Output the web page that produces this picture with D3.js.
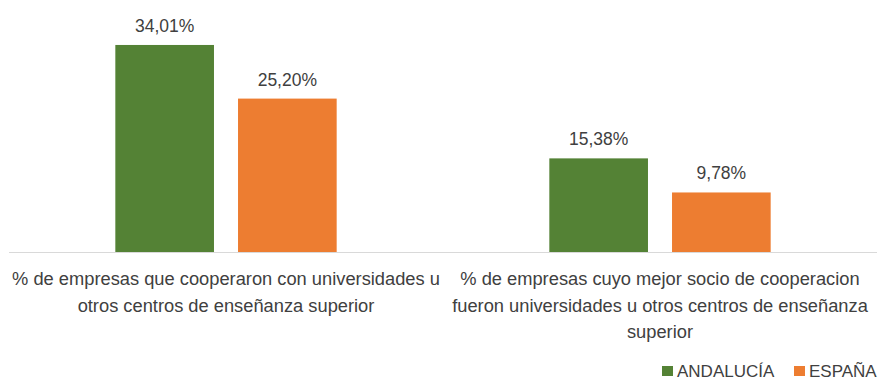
<!DOCTYPE html>
<html>
<head>
<meta charset="utf-8">
<script src="https://cdn.jsdelivr.net/npm/d3@7"></script>
<style>
  html, body { margin: 0; padding: 0; background: #ffffff; }
  svg { display: block; }
  text { font-family: "Liberation Sans", Arial, sans-serif; fill: #404040; }
</style>
</head>
<body>
<svg id="chart" width="882" height="381"></svg>
<script>
// Category labels, split into the lines they are drawn on
const categories = [
  "% de empresas que cooperaron con universidades u otros centros de enseñanza superior",
  "% de empresas cuyo mejor socio de cooperacion fueron universidades u otros centros de enseñanza superior"
];
const categoryLines = [
  ["% de empresas que cooperaron con universidades u", "otros centros de enseñanza superior"],
  ["% de empresas cuyo mejor socio de cooperacion", "fueron universidades u otros centros de enseñanza", "superior"]
];
const seriesNames = ["ANDALUCÍA", "ESPAÑA"];
const andalucia = [34.01, 15.38];
const espana = [25.20, 9.78];
const seriesColors = ["#548235", "#ED7D31"];

const seriesValues = [andalucia, espana];
const fmt = v => v.toFixed(2).replace(".", ",") + "%";

const svg = d3.select("#chart");

const x0 = d3.scaleBand()
  .domain(categories)
  .range([9, 877])
  .paddingInner(0.49)
  .paddingOuter(0.245);

const x1 = d3.scaleBand()
  .domain(seriesNames)
  .range([0, x0.bandwidth()])
  .paddingInner(0.196)
  .paddingOuter(0);

const y = d3.scaleLinear().domain([0, 40]).range([252, 8.5]);

const color = d3.scaleOrdinal().domain(seriesNames).range(seriesColors);

// Bars
const groups = svg.selectAll("g.cat")
  .data(categories)
  .join("g")
  .attr("class", "cat")
  .attr("transform", d => `translate(${x0(d)},0)`);

groups.selectAll("rect")
  .data((d, i) => seriesNames.map((s, k) => ({ s, v: seriesValues[k][i] })))
  .join("rect")
  .attr("x", d => x1(d.s))
  .attr("y", d => y(d.v))
  .attr("width", x1.bandwidth())
  .attr("height", d => y(0) - y(d.v))
  .attr("fill", d => color(d.s));

// Value labels
groups.selectAll("text.val")
  .data((d, i) => seriesNames.map((s, k) => ({ s, v: seriesValues[k][i] })))
  .join("text")
  .attr("class", "val")
  .attr("x", d => x1(d.s) + x1.bandwidth() / 2)
  .attr("y", d => y(d.v) - 13)
  .attr("text-anchor", "middle")
  .style("font-size", "17.5px")
  .text(d => fmt(d.v));

// Category axis line
svg.append("line")
  .attr("x1", x0.range()[0]).attr("x2", x0.range()[1])
  .attr("y1", y(0) + 0.5).attr("y2", y(0) + 0.5)
  .attr("stroke", "#d9d9d9")
  .attr("stroke-width", 1);

// Category labels
categories.forEach((c, i) => {
  const t = svg.append("text")
    .attr("text-anchor", "middle")
    .style("font-size", "18.3px");
  categoryLines[i].forEach((line, j) => {
    t.append("tspan")
      .attr("x", x0(c) + x0.bandwidth() / 2)
      .attr("y", 285 + j * 26.5)
      .text(line);
  });
});

// Legend
const legend = svg.append("g").attr("class", "legend");
const legendX = [662, 794];
seriesNames.forEach((s, k) => {
  legend.append("rect")
    .attr("x", legendX[k]).attr("y", 366)
    .attr("width", 11).attr("height", 10)
    .attr("fill", color(s));
  legend.append("text")
    .attr("x", legendX[k] + 15).attr("y", 377)
    .style("font-size", "17px")
    .text(s);
});
</script>
</body>
</html>
